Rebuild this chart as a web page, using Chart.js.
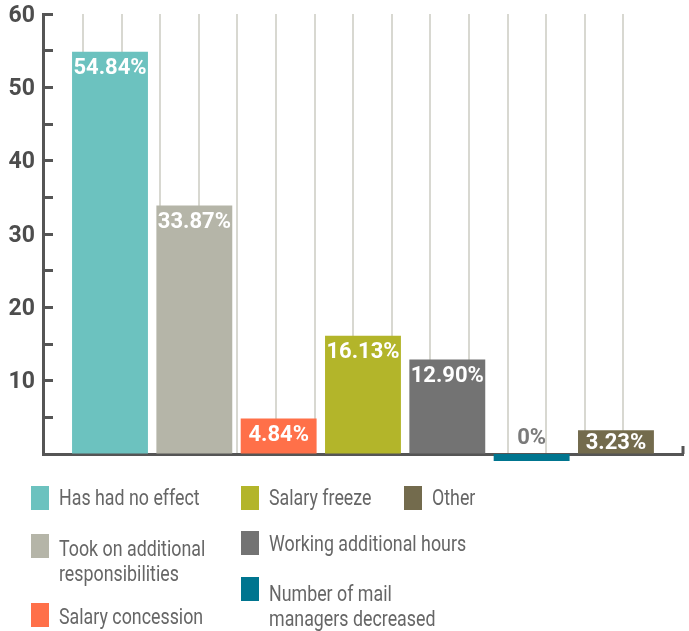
<!DOCTYPE html>
<html><head><meta charset="utf-8">
<script src="https://cdn.jsdelivr.net/npm/chart.js@4"></script>
<style>
html,body{margin:0;padding:0;background:#fff;}
#wrap{position:relative;width:689px;height:631px;overflow:hidden;}
#c{position:absolute;left:0;top:0;}
#legend{position:absolute;left:0;top:0;width:689px;height:631px;}
.sw{position:absolute;width:18px;height:24px;}
.tx{position:absolute;font-family:Roboto,"Open Sans",sans-serif;font-weight:400;font-size:22px;line-height:25px;color:#666666;transform:scaleX(0.81);transform-origin:0 0;white-space:normal;}
</style></head>
<body><div id="wrap"><canvas id="c" width="689" height="631"></canvas><div id="legend"></div></div>
<script>
// ---- data ----
const categories = [
  'Has had no effect',
  'Took on additional responsibilities',
  'Salary concession',
  'Salary freeze',
  'Working additional hours',
  'Number of mail managers decreased',
  'Other'
];
const values = [54.84, 33.87, 4.84, 16.13, 12.90, 0, 3.23];
const colors = ['#6cc2bf', '#b5b5a8', '#ff7049', '#b3b52a', '#737373', '#00758f', '#736b4d'];
const yTickLabels = ['10', '20', '30', '40', '50', '60'];

// ---- layout constants (styling only) ----
const X_MIN = -0.7945, X_MAX = 6.795;   // side padding of the bar axis
const G_MIN = -1.036, G_MAX = 15.544;   // decorative vertical grid spacing
const ZERO_BAR_BASE = -0.95;            // thin marker drawn under the axis for a 0 value
const legendSlots = [
  {x: 31, box: 486, text: 485, w: 185},
  {x: 31, box: 534, text: 536, w: 185},
  {x: 31, box: 603, text: 604, w: 185},
  {x: 241, box: 486, text: 485, w: 255},
  {x: 241, box: 531, text: 531, w: 255},
  {x: 241, box: 577, text: 581, w: 255},
  {x: 404, box: 486, text: 485, w: 255}
];

const valueLabels = {
  id: 'valueLabels',
  afterDatasetsDraw(chart) {
    const ctx = chart.ctx;
    const y0 = chart.scales.y.getPixelForValue(0);
    ctx.save();
    ctx.font = 'bold 22px Roboto';
    ctx.textAlign = 'center';
    ctx.textBaseline = 'middle';
    chart.data.datasets.forEach((ds, i) => {
      const el = chart.getDatasetMeta(i).data[0];
      const v = ds.data[0].y;
      const txt = v === 0 ? '0%' : v.toFixed(2) + '%';
      let y;
      if (v === 0) { ctx.fillStyle = '#7a7a7a'; y = y0 - 16; }
      else { ctx.fillStyle = '#ffffff'; y = Math.min(el.y + 17, y0 - 11); }
      ctx.fillText(txt, el.x, y);
    });
    ctx.restore();
  }
};

const datasets = categories.map((c, i) => {
  const d = {
    label: c,
    data: [{x: i, y: values[i]}],
    backgroundColor: colors[i],
    grouped: false,
    barPercentage: 0.9,
    categoryPercentage: 1,
    clip: false
  };
  if (values[i] === 0) d.base = ZERO_BAR_BASE;
  return d;
});

const chart = new Chart(document.getElementById('c'), {
  type: 'bar',
  data: {datasets},
  options: {
    responsive: false,
    animation: false,
    devicePixelRatio: 1,
    layout: {padding: {left: 0, right: 6, top: 0, bottom: 177}},
    plugins: {legend: {display: false}, tooltip: {enabled: false}},
    scales: {
      x: {
        type: 'linear', position: 'bottom', min: X_MIN, max: X_MAX, z: 1,
        offset: false,
        ticks: {display: false, stepSize: 1, includeBounds: false},
        grid: {offset: false, drawOnChartArea: false, drawTicks: false},
        border: {display: true, color: '#555555', width: 3},
        afterFit: s => { s.height = 0; }
      },
      x2: {
        type: 'linear', position: 'bottom', min: G_MIN, max: G_MAX,
        offset: false,
        ticks: {display: false, stepSize: 1},
        grid: {
          offset: false, drawOnChartArea: true, drawTicks: true, tickLength: -8, tickWidth: 3, lineWidth: 2,
          color: c => (c.tick && Number.isInteger(c.tick.value) && c.tick.value >= 0) ? '#d8d8d1' : 'rgba(0,0,0,0)',
          tickColor: c => (c.tick && Math.abs(c.tick.value - G_MAX) < 1e-6) ? '#555555' : 'rgba(0,0,0,0)'
        },
        border: {display: false},
        afterFit: s => { s.height = 0; }
      },
      y: {
        type: 'linear', position: 'left', min: 0, max: 60,
        ticks: {
          stepSize: 5, padding: 18, labelOffset: 2, color: '#4d4d4d',
          font: {family: 'Roboto', weight: 'bold', size: 23},
          callback: v => yTickLabels.includes(String(v)) ? String(v) : ''
        },
        grid: {
          drawOnChartArea: false, drawTicks: true, tickLength: -10, tickWidth: 3,
          tickColor: c => (c.tick && c.tick.value > 0) ? '#555555' : 'rgba(0,0,0,0)'
        },
        border: {display: true, color: '#555555', width: 3},
        afterFit: s => { s.width = 43; s.paddingTop = 14; s.paddingBottom = 0; }
      }
    }
  },
  plugins: [valueLabels]
});

// ---- HTML legend built from the chart's own legend items ----
const legendEl = document.getElementById('legend');
const items = Chart.defaults.plugins.legend.labels.generateLabels(chart);
items.forEach((it, i) => {
  const s = legendSlots[i];
  const sw = document.createElement('div');
  sw.className = 'sw';
  sw.style.left = s.x + 'px';
  sw.style.top = s.box + 'px';
  sw.style.background = it.fillStyle;
  legendEl.appendChild(sw);
  const tx = document.createElement('div');
  tx.className = 'tx';
  tx.style.left = (s.x + 28) + 'px';
  tx.style.top = s.text + 'px';
  tx.style.width = s.w + 'px';
  tx.textContent = it.text;
  legendEl.appendChild(tx);
});
</script>
</body></html>
